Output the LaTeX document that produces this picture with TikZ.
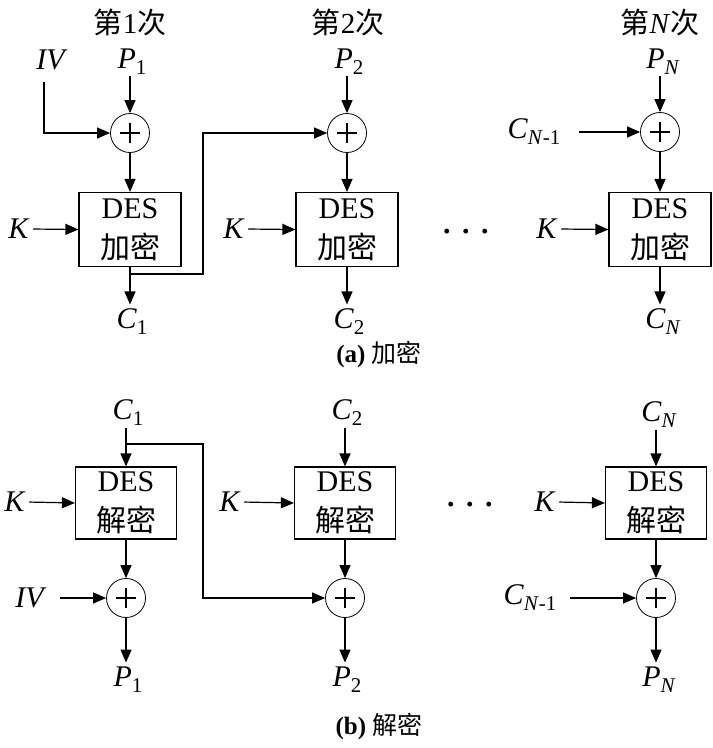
\documentclass[tikz,border=0pt]{standalone}
\usepackage{fontspec}
\setmainfont{Liberation Serif}
\newfontfamily\cjk{Noto Sans CJK SC}
\usetikzlibrary{arrows.meta,calc}
\newcommand\lowsub[1]{\raisebox{-6pt}{\fontsize{21}{21}\selectfont #1}}
\newcommand\plussign[1]{\draw[line width=1.6pt] ($(#1)+(-10,0)$) -- ($(#1)+(10,0)$) ($(#1)+(0,-10)$) -- ($(#1)+(0,10)$);}
\newcommand\threedots{\textbf{·}\hspace{9pt}\textbf{·}\hspace{9pt}\textbf{·}}
\begin{document}
\begin{tikzpicture}[x=1pt,y=-1pt,
  line width=1.2pt,
  arr/.style={-{Triangle[length=13pt,width=11pt]}},
  lab/.style={inner sep=1pt, font=\fontsize{30}{32}\selectfont},
  dotsnode/.style={inner sep=0pt, font=\fontsize{30}{30}\selectfont},
  xorc/.style={draw, circle, line width=0.8pt, minimum size=39pt, inner sep=0pt},
  desbox/.style={draw, minimum width=102pt, minimum height=74pt, align=center, inner sep=0pt, font=\fontsize{30}{40}\selectfont},
  ttl/.style={inner sep=0pt, font=\fontsize{29}{30}\selectfont},
  capt/.style={inner sep=0pt, font=\fontsize{25}{26}\selectfont}]
\useasboundingbox[fill=white] (0,0) rectangle (713,748);

% ===== (a) encryption =====
\node[ttl] (t1) at (130,22) {{\cjk 第}1{\cjk 次}};
\node[ttl] (t2) at (348,22) {{\cjk 第}2{\cjk 次}};
\node[ttl] (t3) at (660,22) {{\cjk 第}\textit{N}{\cjk 次}};

\node[lab] (iv1) at (52,60) {\textit{IV}};
\node[lab] (p1) at (132,62) {\textit{P}\lowsub{1}};
\node[lab] (p2) at (349,62) {\textit{P}\lowsub{2}};
\node[lab] (pn) at (663,62) {\textit{P}\lowsub{\textit{N}}};

\node[xorc] (x1) at (130,133) {};
\node[xorc] (x2) at (347,133) {};
\node[xorc] (x3) at (660,132) {};
\plussign{x1}\plussign{x2}\plussign{x3}

\node[lab] (cn1a) at (534,132) {\textit{C}\lowsub{\textit{N}-1}};

\node[desbox] (b1) at (130,229.5) {DES\\{\cjk 加密}};
\node[desbox] (b2) at (347,229.5) {DES\\{\cjk 加密}};
\node[desbox] (b3) at (660,229.5) {DES\\{\cjk 加密}};

\node[lab] (k1) at (19,229) {\textit{K}};
\node[lab] (k2) at (234,229) {\textit{K}};
\node[lab] (k3) at (547,229) {\textit{K}};
\node[dotsnode] (dotsa) at (466,235) {\threedots};

\node[lab] (c1) at (132,322) {\textit{C}\lowsub{1}};
\node[lab] (c2) at (349,322) {\textit{C}\lowsub{2}};
\node[lab] (cn) at (663,322) {\textit{C}\lowsub{\textit{N}}};

\node[capt] (capa) at (379,355) {\textbf{(a)} {\cjk 加密}};

\coordinate (ivs) at (44,82);
\coordinate (j1) at (130,274);
\coordinate (k1c) at (203,274);

\draw[arr] (ivs) |- (x1.west);
\draw[arr] (p1.south -| x1.north) -- (x1.north);
\draw[arr] (p2.south -| x2.north) -- (x2.north);
\draw[arr] (pn.south -| x3.north) -- (x3.north);
\draw[arr,shorten <=17pt] (cn1a.east) -- (x3.west);
\draw[arr] (x1.south) -- (b1.north);
\draw[arr] (x2.south) -- (b2.north);
\draw[arr] (x3.south) -- (b3.north);
\draw[arr,shorten <=2pt] (k1.east) -- (b1.west);
\draw[arr,shorten <=2pt] (k2.east) -- (b2.west);
\draw[arr,shorten <=2pt] (k3.east) -- (b3.west);
\draw[arr,shorten >=3pt] (b1.south) -- (c1.north -| b1.south);
\draw[arr,shorten >=3pt] (b2.south) -- (c2.north -| b2.south);
\draw[arr,shorten >=3pt] (b3.south) -- (cn.north -| b3.south);
\draw[arr] (j1) -- (k1c) |- (x2.west);

% ===== (b) decryption =====
\node[lab] (dc1) at (128,413) {\textit{C}\lowsub{1}};
\node[lab] (dc2) at (347,413) {\textit{C}\lowsub{2}};
\node[lab] (dcn) at (659,415) {\textit{C}\lowsub{\textit{N}}};

\node[desbox,minimum width=101pt,minimum height=72pt] (d1) at (126,503) {DES\\{\cjk 解密}};
\node[desbox,minimum width=101pt,minimum height=72pt] (d2) at (345,503) {DES\\{\cjk 解密}};
\node[desbox,minimum width=101pt,minimum height=72pt] (d3) at (656,503) {DES\\{\cjk 解密}};

\node[lab] (dk1) at (15,502) {\textit{K}};
\node[lab] (dk2) at (230,502) {\textit{K}};
\node[lab] (dk3) at (545,502) {\textit{K}};
\node[dotsnode] (dotsb) at (470,508) {\threedots};

\node[xorc] (y1) at (126,598) {};
\node[xorc] (y2) at (345,598) {};
\node[xorc] (y3) at (656,598) {};
\plussign{y1}\plussign{y2}\plussign{y3}

\node[lab] (iv2) at (31,598) {\textit{IV}};
\node[lab] (cn1b) at (530,598) {\textit{C}\lowsub{\textit{N}-1}};

\node[lab] (dp1) at (128,680) {\textit{P}\lowsub{1}};
\node[lab] (dp2) at (347,680) {\textit{P}\lowsub{2}};
\node[lab] (dpn) at (659,680) {\textit{P}\lowsub{\textit{N}}};

\node[capt] (capb) at (379,727) {\textbf{(b)} {\cjk 解密}};

\coordinate (j2) at (126,444);
\coordinate (k2c) at (203,444);

\draw[arr] (dc1.south -| d1.north) -- (d1.north);
\draw[arr] (dc2.south -| d2.north) -- (d2.north);
\draw[arr] (dcn.south -| d3.north) -- (d3.north);
\draw[arr,shorten <=2pt] (dk1.east) -- (d1.west);
\draw[arr,shorten <=2pt] (dk2.east) -- (d2.west);
\draw[arr,shorten <=2pt] (dk3.east) -- (d3.west);
\draw[arr] (d1.south) -- (y1.north);
\draw[arr] (d2.south) -- (y2.north);
\draw[arr] (d3.south) -- (y3.north);
\draw[arr,shorten <=12pt] (iv2.east) -- (y1.west);
\draw[arr,shorten <=12pt] (cn1b.east) -- (y3.west);
\draw[arr,shorten >=3pt] (y1.south) -- (dp1.north -| y1.south);
\draw[arr,shorten >=3pt] (y2.south) -- (dp2.north -| y2.south);
\draw[arr,shorten >=3pt] (y3.south) -- (dpn.north -| y3.south);
\draw[arr] (j2) -- (k2c) |- (y2.west);
\end{tikzpicture}
\end{document}
